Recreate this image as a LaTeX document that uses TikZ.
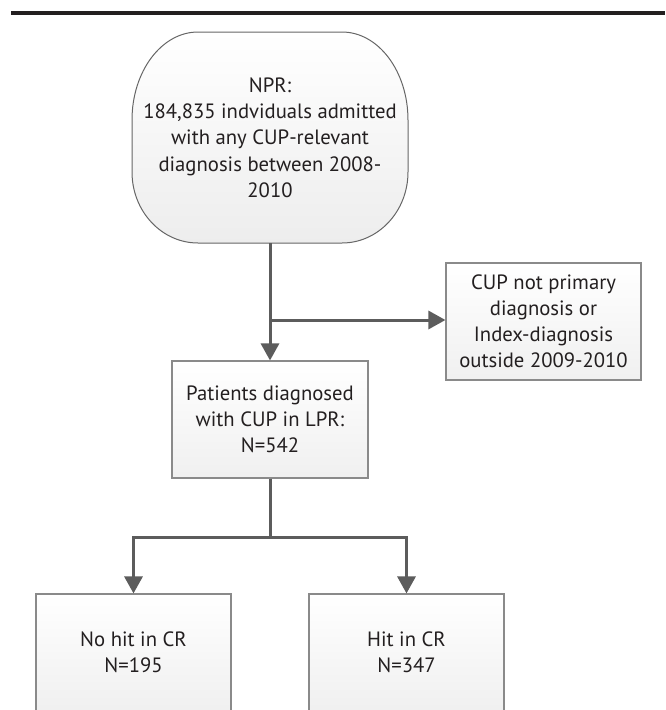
\documentclass[tikz,border=0pt]{standalone}
\usepackage{fontspec}
\setmainfont{PT Sans}
\usetikzlibrary{arrows.meta}
\definecolor{txt}{HTML}{231F20}
\definecolor{arr}{HTML}{5C5C5C}
\definecolor{bord}{HTML}{8A8A8A}
\definecolor{sbord}{HTML}{666666}
\tikzset{
  box/.style={draw=bord, line width=1.1pt, top color=white, bottom color=black!6,
    minimum width=195pt, minimum height=117pt, inner sep=0pt, align=center,
    text=txt, font=\fontsize{20.7}{26}\selectfont},
  conn/.style={draw=arr, line width=3pt, -{Triangle[width=18pt,length=17pt]}}
}
\begin{document}
\begin{tikzpicture}[x=1pt,y=-1pt]
\useasboundingbox (0,0) rectangle (665,710);
\clip (0,0) rectangle (665,710);
% top rule
\fill[txt] (11,11) rectangle (665,14.5);
% top rounded shape
\path[draw=sbord, line width=1pt, top color=white, bottom color=black!7]
  (198,32) -- (342,32)
  arc[start angle=90, end angle=0, x radius=66pt, y radius=88pt]
  -- (408,172)
  arc[start angle=0, end angle=-90, x radius=66pt, y radius=71pt]
  -- (198,243)
  arc[start angle=270, end angle=180, x radius=66pt, y radius=71pt]
  -- (132,120)
  arc[start angle=180, end angle=90, x radius=66pt, y radius=88pt]
  -- cycle;
\node[align=center, text=txt, font=\fontsize{20.7}{26.3}\selectfont] (npr) at (270,137.5)
  {NPR:\\184,835 indviduals admitted\\with any CUP-relevant\\diagnosis between 2008-\\2010};
\coordinate (nprb) at (270,243);
\coordinate (branch) at (270,320);
\node[box, minimum width=196pt] (pat) at (270,419.5) {Patients diagnosed\\with CUP in LPR:\\N=542};
\node[box] (excl) at (543.5,321.5) {CUP not primary\\diagnosis or\\Index-diagnosis\\outside 2009-2010};
\node[box] (nohit) at (133.5,652.5) {No hit in CR\\N=195};
\node[box] (hit) at (406.5,652.5) {Hit in CR\\N=347};
\draw[conn] (nprb) -- (pat.north);
\draw[conn] (branch) -- (branch -| excl.west);
\draw[conn] (pat.south) -- ++(0,59) -| (nohit.north);
\draw[conn] (pat.south) -- ++(0,59) -| (hit.north);
\end{tikzpicture}
\end{document}
